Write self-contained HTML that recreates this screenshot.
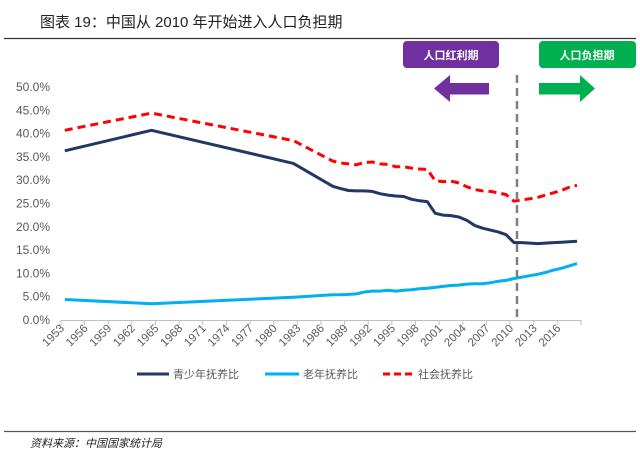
<!DOCTYPE html>
<html><head><meta charset="utf-8"><style>
html,body{margin:0;padding:0;background:#fff;}
body{width:640px;height:469px;position:relative;overflow:hidden;font-family:"Liberation Sans","Noto Sans CJK SC",sans-serif;}
svg{position:absolute;left:0;top:0;}
</style></head><body>
<svg width="640" height="469" viewBox="0 0 640 469">
<text x="40" y="27" font-size="15" fill="#222" font-family="'Liberation Sans','Noto Sans CJK SC',sans-serif">图表 19：中国从 2010 年开始进入人口负担期</text>
<line x1="4" y1="38.5" x2="636" y2="38.5" stroke="#333" stroke-width="1.2"/>
<line x1="4" y1="431.5" x2="636" y2="431.5" stroke="#555" stroke-width="1.2"/>
<text x="30" y="447" font-size="11" font-style="italic" fill="#222" font-family="'Liberation Sans','Noto Sans CJK SC',sans-serif">资料来源：中国国家统计局</text>

<rect x="403" y="41" width="96" height="27" rx="4" fill="#7030A0"/>
<text x="451" y="59" font-size="11" font-weight="bold" fill="#fff" text-anchor="middle" font-family="'Liberation Sans','Noto Sans CJK SC',sans-serif">人口红利期</text>
<polygon points="434,88.5 450,75 450,83 489,83 489,94.5 450,94.5 450,102" fill="#7030A0"/>
<rect x="539" y="41" width="97" height="27" rx="4" fill="#00B050"/>
<text x="587" y="59" font-size="11" font-weight="bold" fill="#fff" text-anchor="middle" font-family="'Liberation Sans','Noto Sans CJK SC',sans-serif">人口负担期</text>
<polygon points="595,88.5 580,75 580,83 539,83 539,94.5 580,94.5 580,102" fill="#00B050"/>

<g id="axes"></g>
<g id="series"></g>

<g>
<line x1="137" y1="374" x2="169" y2="374" stroke="#1F3864" stroke-width="3"/>
<text x="173" y="378" font-size="11" fill="#595959" font-family="'Liberation Sans','Noto Sans CJK SC',sans-serif">青少年抚养比</text>
<line x1="265" y1="374" x2="299" y2="374" stroke="#00B0F0" stroke-width="3"/>
<text x="303" y="378" font-size="11" fill="#595959" font-family="'Liberation Sans','Noto Sans CJK SC',sans-serif">老年抚养比</text>
<line x1="383" y1="374" x2="415" y2="374" stroke="#FF0000" stroke-width="3" stroke-dasharray="7,4"/>
<text x="418" y="378" font-size="11" fill="#595959" font-family="'Liberation Sans','Noto Sans CJK SC',sans-serif">社会抚养比</text>
</g>
</svg>
<script>
const years = [1953,1964,1982,1987,1988,1989,1990,1991,1992,1993,1994,1995,1996,1997,1998,1999,2000,2001,2002,2003,2004,2005,2006,2007,2008,2009,2010,2011,2012,2013,2014,2015,2016,2017,2018];
const youthRatio = [36.3,40.7,33.6,28.7,28.2,27.8,27.7,27.7,27.6,27.1,26.8,26.6,26.5,25.9,25.6,25.4,22.9,22.5,22.4,22.1,21.4,20.3,19.7,19.3,18.9,18.3,16.6,16.6,16.5,16.4,16.5,16.6,16.7,16.8,16.9];
const elderlyRatio = [4.4,3.5,4.9,5.4,5.4,5.5,5.6,6.0,6.2,6.2,6.4,6.2,6.4,6.5,6.7,6.8,7.0,7.2,7.4,7.5,7.7,7.8,7.8,8.0,8.3,8.5,8.9,9.2,9.5,9.8,10.2,10.7,11.1,11.6,12.1];
const totalRatio = [40.7,44.4,38.5,34.1,33.7,33.5,33.3,33.8,33.9,33.5,33.4,32.9,32.9,32.6,32.4,32.3,29.9,29.7,29.8,29.4,28.6,28.0,27.7,27.6,27.3,26.9,25.5,25.8,26.0,26.3,26.8,27.3,27.8,28.5,28.9];
const yTicks = [0,5,10,15,20,25,30,35,40,45,50];
const xTickYears = [1953,1956,1959,1962,1965,1968,1971,1974,1977,1980,1983,1986,1989,1992,1995,1998,2001,2004,2007,2010,2013,2016];
const firstYear = 1953, lastYear = 2018, markerYear = 2010;

const NS = "http://www.w3.org/2000/svg";
const X0 = 60.9, STEP = 7.88, Y0 = 320, PER = 4.66;
function xBound(y){ return X0 + (y - firstYear) * STEP; }
function xScale(y){ return xBound(y) + STEP/2; }
function yScale(v){ return Y0 - v * PER; }
function mk(tag, attrs, parent){ const e = document.createElementNS(NS, tag); for (const k in attrs) e.setAttribute(k, attrs[k]); parent.appendChild(e); return e; }

const axes = document.getElementById('axes');
yTicks.forEach(v => {
  const t = mk('text', {x: 50, y: yScale(v) + 4, 'font-size': 12, fill: '#595959', 'text-anchor': 'end'}, axes);
  
  
  t.textContent = v.toFixed(1) + '%';
});
const ax = mk('line', {x1: xBound(firstYear), y1: Y0 + 0.5, x2: xBound(lastYear + 1), y2: Y0 + 0.5, stroke: '#bfbfbf', 'stroke-width': 1}, axes);


for (let y = firstYear; y <= lastYear + 1; y += 3) {
  const tk = mk('line', {x1: xBound(y), y1: Y0, x2: xBound(y), y2: Y0 + 5, stroke: '#bfbfbf'}, axes);
  
  
}
xTickYears.forEach(y => {
  const x = xBound(y) + 4, yy = Y0 + 9;
  const t = mk('text', {x: x, y: yy, 'font-size': 11.5, fill: '#595959', 'text-anchor': 'end', transform: `rotate(-45 ${x} ${yy})`}, axes);
  
  
  t.textContent = y;
});

const series = document.getElementById('series');
function drawLine(vals, color, dash, name){
  const d = years.map((y,i) => (i ? 'L' : 'M') + xScale(y).toFixed(1) + ' ' + yScale(vals[i]).toFixed(1)).join(' ');
  const p = mk('path', {d: d, fill: 'none', stroke: color, 'stroke-width': 3, 'stroke-linejoin': 'round'}, series);
  if (dash) p.setAttribute('stroke-dasharray', dash);
  
  
}
drawLine(totalRatio, '#FF0000', '8,5', 'total-dependency-line');
drawLine(youthRatio, '#1F3864', null, 'youth-dependency-line');
drawLine(elderlyRatio, '#00B0F0', null, 'elderly-dependency-line');

const mx = xScale(markerYear) + 3;
const dl = mk('line', {x1: mx, y1: 75, x2: mx, y2: Y0, stroke: '#7f7f7f', 'stroke-width': 2.5, 'stroke-dasharray': '8,5'}, series);


</script>
</body></html>
